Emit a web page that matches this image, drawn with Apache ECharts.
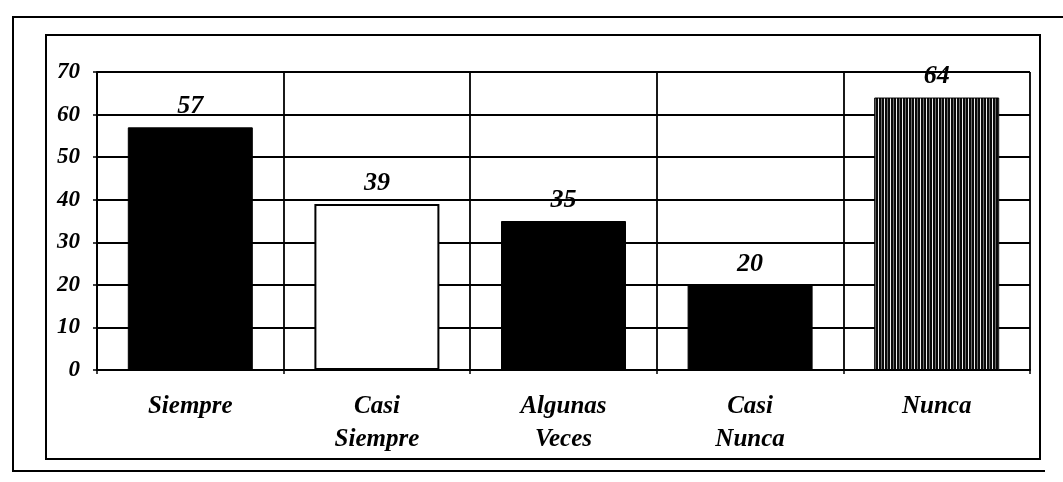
<!DOCTYPE html>
<html>
<head>
<meta charset="utf-8">
<script src="https://cdn.jsdelivr.net/npm/echarts@6/dist/echarts.min.js"></script>
<style>
  html, body { margin: 0; padding: 0; background: #fff; }
  #chart { width: 1063px; height: 482px; }
</style>
</head>
<body>
<div id="chart"></div>
<script>
// Survey answers and their counts
const categories = ['Siempre', 'Casi\nSiempre', 'Algunas\nVeces', 'Casi\nNunca', 'Nunca'];
const counts = [57, 39, 35, 20, 64];
const yMin = 0;
const yMax = 70;
const yStep = 10;

const FONT = '"Liberation Serif", "Times New Roman", serif';

// Dense vertical-stripe fill for the last bar
function stripePattern() {
  const c = document.createElement('canvas');
  c.width = 6; c.height = 8;
  const ctx = c.getContext('2d');
  ctx.fillStyle = '#0a0a0a';
  ctx.fillRect(0, 0, 6, 8);
  ctx.fillStyle = '#f0f0f0';
  ctx.fillRect(2, 0, 1, 8);
  ctx.fillStyle = '#6e6e6e';
  ctx.fillRect(5, 0, 1, 8);
  return { image: c, repeat: 'repeat' };
}

const fills = ['#000', '#fff', '#000', '#000', stripePattern()];

const barData = counts.map((v, i) => ({
  value: v,
  itemStyle: { color: fills[i], borderColor: '#000', borderWidth: i === 1 ? 2 : 1 }
}));

const chart = echarts.init(document.getElementById('chart'), null, { renderer: 'canvas' });

chart.setOption({
  backgroundColor: '#fff',
  animation: false,
  grid: { left: 97, right: 33, top: 72, bottom: 112, containLabel: false },
  xAxis: {
    type: 'category',
    data: categories,
    boundaryGap: true,
    axisLine: { show: true, lineStyle: { color: '#000', width: 2 } },
    axisTick: { show: true, length: 4, lineStyle: { color: '#000', width: 1.5 } },
    splitLine: { show: true, lineStyle: { color: '#000', width: 1.8 } },
    axisLabel: {
      color: '#000', fontFamily: FONT, fontStyle: 'italic', fontWeight: 'bold',
      fontSize: 25, lineHeight: 33, margin: 20, interval: 0
    }
  },
  yAxis: {
    type: 'value',
    min: yMin, max: yMax, interval: yStep,
    axisLine: { show: true, lineStyle: { color: '#000', width: 2 } },
    axisTick: { show: true, length: 4, lineStyle: { color: '#000', width: 1.5 } },
    splitLine: { show: true, lineStyle: { color: '#000', width: 1.8 } },
    axisLabel: {
      color: '#000', fontFamily: FONT, fontStyle: 'italic', fontWeight: 'bold',
      fontSize: 23, margin: 17
    }
  },
  series: [{
    type: 'bar',
    data: barData,
    barWidth: 125,
    label: {
      show: true, position: 'top', distance: 8,
      color: '#000', fontFamily: FONT, fontStyle: 'italic', fontWeight: 'bold', fontSize: 26
    }
  }],
  graphic: [
    // outer frame
    { type: 'polyline', silent: true,
      shape: { points: [[1063, 17], [13, 17], [13, 471], [1045, 471]] },
      style: { fill: null, stroke: '#000', lineWidth: 2 } },
    // inner frame
    { type: 'rect', silent: true,
      shape: { x: 46, y: 35, width: 994, height: 424 },
      style: { fill: null, stroke: '#000', lineWidth: 2 } }
  ]
});
</script>
</body>
</html>
